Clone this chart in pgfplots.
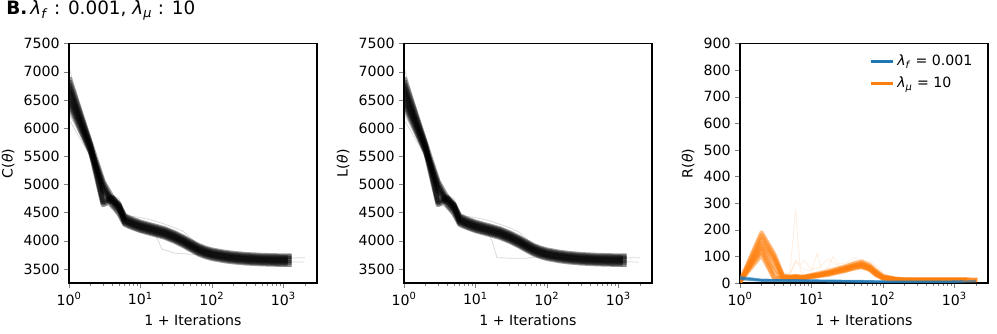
\documentclass[border=0pt]{standalone}
\usepackage{pgfplots}
\pgfplotsset{compat=1.18}
\usepackage{pgfplotstable}
\usepackage{fontspec}
\setmainfont{DejaVu Sans}
\definecolor{mplblue}{HTML}{1F77B4}
\definecolor{mplorange}{HTML}{FF7F0E}

\pgfplotstableread{
x t1 t2 t3 t4 t5 t6 t7 t8 t9 t10
1 6402 6459 6511 6567 6624 6676 6733 6789 6841 6898
2 5567 5586 5604 5622 5641 5659 5678 5696 5714 5733
3 4950 4640 4900 4670 4980 5020 4690 4880 4710 5050
4 4625 4720 4658 4740 4692 4708 4760 4742 4780 4775
5 4485 4620 4518 4640 4552 4568 4600 4602 4650 4635
6 4295 4312 4328 4345 4362 4378 4395 4412 4428 4445
7 4255 4272 4288 4305 4322 4338 4355 4372 4388 4405
8 4225 4242 4258 4275 4292 4308 4325 4342 4358 4375
10 4180 4197 4213 4230 4247 4263 4280 4297 4313 4330
13 4140 4157 4173 4190 4207 4223 4240 4257 4273 4290
17 4100 4117 4133 4150 4167 4183 4200 4217 4233 4250
22 4060 4077 4093 4110 4127 4143 4160 4177 4193 4210
30 3990 4007 4023 4040 4057 4073 4090 4107 4123 4140
40 3912 3929 3945 3962 3979 3995 4012 4029 4045 4062
50 3843 3860 3876 3893 3910 3926 3943 3960 3976 3993
65 3765 3782 3798 3815 3832 3848 3865 3882 3898 3915
80 3720 3737 3753 3770 3787 3803 3820 3837 3853 3870
100 3685 3702 3718 3735 3752 3768 3785 3802 3818 3835
150 3645 3662 3678 3695 3712 3728 3745 3762 3778 3795
200 3625 3642 3658 3675 3692 3708 3725 3742 3758 3775
300 3605 3622 3638 3655 3672 3688 3705 3722 3738 3755
500 3590 3607 3623 3640 3657 3673 3690 3707 3723 3740
800 3583 3600 3616 3633 3650 3666 3683 3700 3716 3733
1150 3580 3597 3613 3630 3647 3663 3680 3697 3713 3730
1300 3580 nan 3613 nan 3647 nan 3680 nan 3713 3730
}\Ctab

\pgfplotstableread{
x r1 r2 r3 r4 r5 r6 r7 r8
1 5 3 8 2 6 4 5 3
2 180 150 120 165 105 140 190 130
3 100 85 20 95 18 60 110 40
4 25 20 18 22 16 20 28 19
5 22 20 18 22 17 20 24 19
6 25 22 20 24 19 22 26 21
7 22 20 18 22 17 20 24 19
8 22 20 20 22 19 21 24 20
10 28 25 24 27 22 26 30 25
13 33 30 28 32 27 31 36 29
17 40 36 33 38 31 37 43 35
22 48 43 40 46 38 45 52 42
30 58 52 48 56 46 55 62 50
40 68 62 58 66 55 65 74 60
50 72 66 62 70 60 75 80 64
65 60 55 52 58 50 62 68 53
80 40 35 32 38 30 42 46 34
100 22 20 18 21 17 24 26 19
150 14 13 12 14 12 15 16 13
200 12 11 10 12 10 13 13 11
300 12 11 10 12 10 12 13 11
500 12 11 10 12 10 12 13 11
1000 12 11 10 12 10 12 13 11
1500 12 11 10 12 nan 12 13 11
2100 nan nan 10 11 nan nan 12 nan
}\Rtab

\pgfplotstableread{
x b1 b2 b3
1 22 18 15
2 12 10 9
3 11 10 9
5 10 9 8
10 9 8 8
20 8 7 7
50 7 6 5
100 5 4 4
200 4 3 3
500 4 3 3
1000 5 4 4
1300 6 5 nan
2000 nan 7 nan
}\Btab

\tikzset{
  band/.style={black, draw opacity=0.4, line width=3.8pt, line join=round, line cap=butt},
  faint/.style={black, draw opacity=0.15, line width=0.6pt},
  oband/.style={mplorange, draw opacity=0.5, line width=3.2pt, line join=round},
  ofaint/.style={mplorange, draw opacity=0.13, line width=0.6pt},
  bband/.style={mplblue, draw opacity=0.6, line width=1.8pt, line join=round},
}

\begin{document}
\begin{tikzpicture}
\useasboundingbox (-51.75pt,-38.25pt) rectangle (696pt,212.25pt);
\node[anchor=base west, font=\fontsize{13.8}{16}\selectfont] at (-50.5pt,201pt)
  {\textbf{B.}\,\textit{λ}\textsubscript{\textit{f}} : 0.001, \textit{λ}\textsubscript{\textit{μ}} : 10};

% Panel 1: C
\begin{axis}[at={(0pt,0pt)}, anchor=south west,
    scale only axis, width=186pt, height=179.6pt,
    xmode=log, xmin=1, xmax=2950,
    xtick={1,10,100,1000},
    xticklabels={10\textsuperscript{0},10\textsuperscript{1},10\textsuperscript{2},10\textsuperscript{3}},
    minor xtick={2,3,4,5,6,7,8,9,20,30,40,50,60,70,80,90,200,300,400,500,600,700,800,900,2000},
    tick align=outside, xtick pos=left, ytick pos=left,
    major tick length=3.5pt, minor tick length=2pt,
    axis line style={line width=0.8pt},
    /pgf/number format/assume math mode=true,
    /pgf/number format/1000 sep={},
    tick label style={font=\fontsize{10.6}{12.7}\selectfont},
    label style={font=\fontsize{10.6}{12.7}\selectfont},
    xlabel={1 + Iterations},
    ymin=3250, ymax=7500, ytick={3500,4000,4500,5000,5500,6000,6500,7000,7500},
    ylabel={C(\textit{θ})}]
\addplot[faint] coordinates {(1,7080)(2,5760)(3,5000)(4,4800)(5,4750)(6,4460)(8,4430)(10,4410)(15,4360)(20,4310)(30,4230)(40,4160)(60,3960)(100,3800)(200,3730)(500,3700)(1000,3690)(2000,3700)};
\addplot[faint] coordinates {(1,6250)(2,5550)(3,4900)(5,4480)(6,4300)(10,4220)(15,4160)(17,4050)(20,3850)(30,3780)(50,3760)(80,3740)(100,3720)(300,3660)(1000,3630)(1900,3620)};
\addplot[faint] coordinates {(1,6150)(2,5500)(3,4650)(4,4600)(6,4250)(10,4150)(20,4080)(40,3980)(100,3700)(300,3600)(1000,3550)(1300,3540)};
\addplot[band] table[x=x, y=t1]{\Ctab};
\addplot[band] table[x=x, y=t2]{\Ctab};
\addplot[band] table[x=x, y=t3]{\Ctab};
\addplot[band] table[x=x, y=t4]{\Ctab};
\addplot[band] table[x=x, y=t5]{\Ctab};
\addplot[band] table[x=x, y=t6]{\Ctab};
\addplot[band] table[x=x, y=t7]{\Ctab};
\addplot[band] table[x=x, y=t8]{\Ctab};
\addplot[band] table[x=x, y=t9]{\Ctab};
\addplot[band] table[x=x, y=t10]{\Ctab};
\end{axis}

% Panel 2: L
\begin{axis}[at={(251.25pt,0pt)}, anchor=south west,
    scale only axis, width=186pt, height=179.6pt,
    xmode=log, xmin=1, xmax=2950,
    xtick={1,10,100,1000},
    xticklabels={10\textsuperscript{0},10\textsuperscript{1},10\textsuperscript{2},10\textsuperscript{3}},
    minor xtick={2,3,4,5,6,7,8,9,20,30,40,50,60,70,80,90,200,300,400,500,600,700,800,900,2000},
    tick align=outside, xtick pos=left, ytick pos=left,
    major tick length=3.5pt, minor tick length=2pt,
    axis line style={line width=0.8pt},
    /pgf/number format/assume math mode=true,
    /pgf/number format/1000 sep={},
    tick label style={font=\fontsize{10.6}{12.7}\selectfont},
    label style={font=\fontsize{10.6}{12.7}\selectfont},
    xlabel={1 + Iterations},
    ymin=3250, ymax=7500, ytick={3500,4000,4500,5000,5500,6000,6500,7000,7500},
    ylabel={L(\textit{θ})}]
\addplot[faint] coordinates {(1,7080)(2,5760)(3,5000)(4,4800)(5,4750)(6,4460)(8,4430)(10,4410)(15,4360)(20,4310)(30,4230)(40,4160)(60,3960)(100,3800)(200,3730)(500,3700)(1000,3690)(2000,3700)};
\addplot[faint] coordinates {(1,6250)(2,5550)(3,4900)(5,4480)(6,4300)(10,4220)(15,4150)(17,4000)(20,3700)(30,3690)(50,3690)(80,3720)(100,3720)(300,3660)(1000,3630)(1900,3620)};
\addplot[faint] coordinates {(1,6150)(2,5500)(3,4650)(4,4600)(6,4250)(10,4150)(20,4080)(40,3980)(100,3700)(300,3600)(1000,3550)(1300,3540)};
\addplot[band] table[x=x, y=t1]{\Ctab};
\addplot[band] table[x=x, y=t2]{\Ctab};
\addplot[band] table[x=x, y=t3]{\Ctab};
\addplot[band] table[x=x, y=t4]{\Ctab};
\addplot[band] table[x=x, y=t5]{\Ctab};
\addplot[band] table[x=x, y=t6]{\Ctab};
\addplot[band] table[x=x, y=t7]{\Ctab};
\addplot[band] table[x=x, y=t8]{\Ctab};
\addplot[band] table[x=x, y=t9]{\Ctab};
\addplot[band] table[x=x, y=t10]{\Ctab};
\end{axis}

% Panel 3: R
\begin{axis}[at={(503.25pt,0pt)}, anchor=south west,
    scale only axis, width=186pt, height=179.6pt,
    xmode=log, xmin=1, xmax=2950,
    xtick={1,10,100,1000},
    xticklabels={10\textsuperscript{0},10\textsuperscript{1},10\textsuperscript{2},10\textsuperscript{3}},
    minor xtick={2,3,4,5,6,7,8,9,20,30,40,50,60,70,80,90,200,300,400,500,600,700,800,900,2000},
    tick align=outside, xtick pos=left, ytick pos=left,
    major tick length=3.5pt, minor tick length=2pt,
    axis line style={line width=0.8pt},
    /pgf/number format/assume math mode=true,
    /pgf/number format/1000 sep={},
    tick label style={font=\fontsize{10.6}{12.7}\selectfont},
    label style={font=\fontsize{10.6}{12.7}\selectfont},
    xlabel={1 + Iterations},
    ymin=0, ymax=900, ytick={0,100,200,300,400,500,600,700,800,900},
    ylabel={R(\textit{θ})},
    legend style={draw=none, fill=none, at={(0.965,0.975)}, anchor=north east, row sep=3pt,
      font=\fontsize{10.6}{12.7}\selectfont},
    legend cell align=left,
]
\addlegendimage{mplblue, line width=1.8pt}
\addlegendentry{\textit{λ}\textsubscript{\textit{f}} = 0.001}
\addlegendimage{mplorange, line width=1.8pt}
\addlegendentry{\textit{λ}\textsubscript{\textit{μ}} = 10}
\addplot[ofaint, forget plot] coordinates {(1,4)(2,150)(3,80)(4,25)(5,40)(6,275)(7,45)(8,30)(10,35)(13,45)(17,55)(22,60)(30,65)(40,70)(50,72)(65,60)(80,40)(100,22)(150,14)(300,12)(1000,12)};
\addplot[ofaint, forget plot] coordinates {(1,5)(2,130)(3,60)(4,20)(5,30)(6,85)(7,60)(8,50)(10,45)(12,110)(14,40)(17,55)(20,100)(25,60)(30,70)(40,80)(50,90)(65,70)(80,45)(100,25)(200,12)(1000,12)};
\addplot[ofaint, forget plot] coordinates {(1,3)(2,170)(3,90)(4,25)(5,35)(6,80)(7,70)(8,85)(10,50)(13,60)(17,90)(22,70)(30,75)(40,95)(50,85)(70,80)(90,50)(120,20)(300,12)(2000,12)};
\addplot[oband, forget plot] table[x=x, y=r1]{\Rtab};
\addplot[oband, forget plot] table[x=x, y=r2]{\Rtab};
\addplot[oband, forget plot] table[x=x, y=r3]{\Rtab};
\addplot[oband, forget plot] table[x=x, y=r4]{\Rtab};
\addplot[oband, forget plot] table[x=x, y=r5]{\Rtab};
\addplot[oband, forget plot] table[x=x, y=r6]{\Rtab};
\addplot[oband, forget plot] table[x=x, y=r7]{\Rtab};
\addplot[oband, forget plot] table[x=x, y=r8]{\Rtab};
\addplot[bband, forget plot] table[x=x, y=b1]{\Btab};
\addplot[bband, forget plot] table[x=x, y=b2]{\Btab};
\addplot[bband, forget plot] table[x=x, y=b3]{\Btab};
\end{axis}
\end{tikzpicture}
\end{document}
